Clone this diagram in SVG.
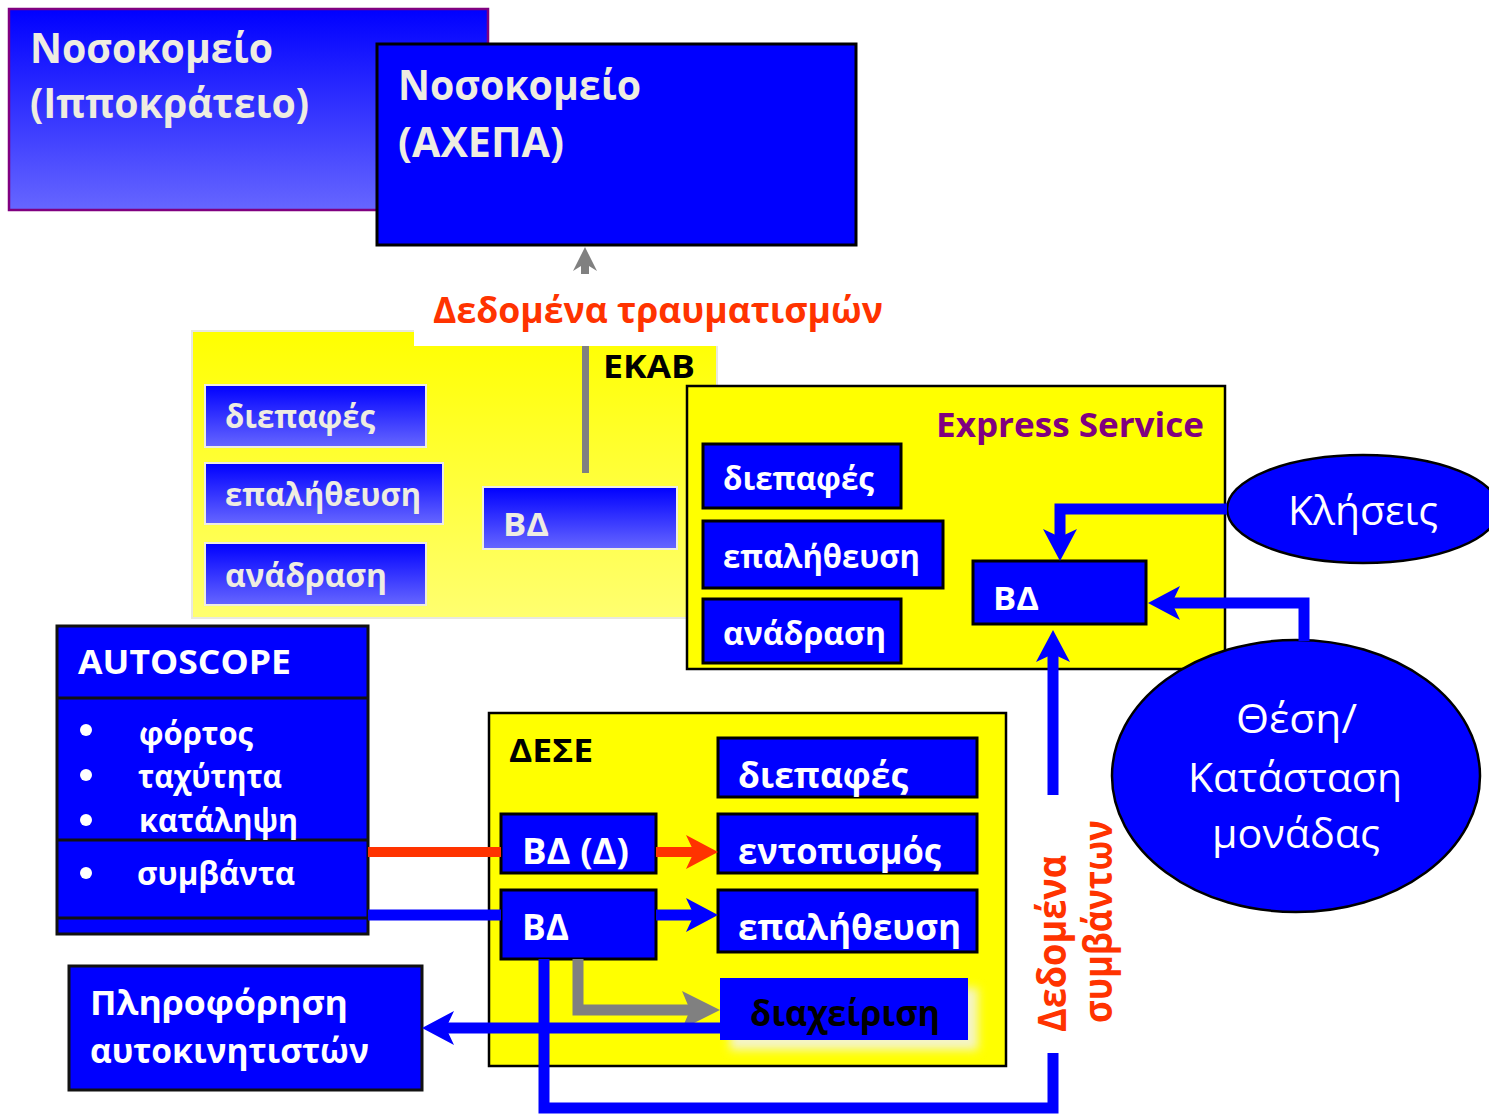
<svg xmlns="http://www.w3.org/2000/svg" width="1489" height="1115" viewBox="0 0 1489 1115">
<style>
text { font-family: "Open Sans", "Noto Sans", "DejaVu Sans", sans-serif; font-weight: bold; }
.reg { font-weight: normal; }
.cw { fill: #eeece1; }
.w { fill: #ffffff; }
.k { fill: #000000; }
.blue { fill: #0000ff; stroke: #000000; stroke-width: 3; }
.gbox { fill: url(#gBlue); stroke: #eeece1; stroke-width: 2; }
.ln { fill: none; stroke-linejoin: miter; }
.lb { stroke: #0000ff; stroke-width: 11; }
.lr { stroke: #ff3300; stroke-width: 10; }
.lg { stroke: #808080; stroke-width: 11; }
</style>
<defs>
<linearGradient id="gBlue" x1="0" y1="0" x2="0" y2="1"><stop offset="0" stop-color="#0000ff"/><stop offset="1" stop-color="#6666ff"/></linearGradient>
<linearGradient id="gYel" x1="0" y1="0" x2="0" y2="1"><stop offset="0" stop-color="#ffff00"/><stop offset="1" stop-color="#ffff70"/></linearGradient>
<marker id="mB" viewBox="0 0 32 34" markerWidth="32" markerHeight="34" refX="12" refY="17" orient="auto" markerUnits="userSpaceOnUse"><path d="M0,0 L32,17 L0,34 L8,17 Z" fill="#0000ff"/></marker>
<marker id="mR" viewBox="0 0 32 34" markerWidth="32" markerHeight="34" refX="12" refY="17" orient="auto" markerUnits="userSpaceOnUse"><path d="M0,0 L32,17 L0,34 L8,17 Z" fill="#ff3300"/></marker>
<marker id="mG" viewBox="0 0 38 38" markerWidth="38" markerHeight="38" refX="18" refY="19" orient="auto" markerUnits="userSpaceOnUse"><path d="M0,0 L38,19 L0,38 L8,19 Z" fill="#808080"/></marker>
<filter id="glow" x="-20%" y="-30%" width="140%" height="160%"><feGaussianBlur stdDeviation="5"/></filter>
</defs>

<g id="hosp-ippokrateio">
<rect x="9" y="9" width="479" height="201" fill="url(#gBlue)" stroke="#800080" stroke-width="2.5"/>
<text class="cw" x="30" y="63" font-size="41" textLength="243" lengthAdjust="spacingAndGlyphs">Νοσοκομείο</text>
<text class="cw" x="30" y="118" font-size="41" textLength="279" lengthAdjust="spacingAndGlyphs">(Ιπποκράτειο)</text>
</g>

<g id="hosp-axepa">
<rect x="377" y="44" width="479" height="201" fill="#0000ff" stroke="#000" stroke-width="3"/>
<text class="cw" x="398" y="100" font-size="41" textLength="243" lengthAdjust="spacingAndGlyphs">Νοσοκομείο</text>
<text class="cw" x="398" y="157" font-size="41" textLength="166" lengthAdjust="spacingAndGlyphs">(ΑΧΕΠΑ)</text>
</g>

<g id="ekab">
<rect x="192" y="331" width="525" height="287" fill="url(#gYel)" stroke="#e8e8e0" stroke-width="2"/>
<rect x="414" y="298" width="306" height="48" fill="#ffffff"/>
<text class="k" x="603" y="378" font-size="33" textLength="92" lengthAdjust="spacingAndGlyphs">ΕΚΑΒ</text>
</g>
<g id="ekab-diepafes"><rect class="gbox" x="205" y="385" width="221" height="62"/><text class="cw" x="225" y="428" font-size="32" textLength="150" lengthAdjust="spacingAndGlyphs">διεπαφές</text></g>
<g id="ekab-epalitheusi"><rect class="gbox" x="205" y="463" width="238" height="61"/><text class="cw" x="225" y="506" font-size="32" textLength="196" lengthAdjust="spacingAndGlyphs">επαλήθευση</text></g>
<g id="ekab-anadrasi"><rect class="gbox" x="205" y="543" width="221" height="62"/><text class="cw" x="225" y="587" font-size="32" textLength="162" lengthAdjust="spacingAndGlyphs">ανάδραση</text></g>
<g id="ekab-vd"><rect class="gbox" x="483" y="487" width="194" height="62"/><text class="cw" x="503" y="536" font-size="33" textLength="46" lengthAdjust="spacingAndGlyphs">ΒΔ</text></g>

<g id="express">
<rect x="687" y="386" width="538" height="283" fill="#ffff00" stroke="#000" stroke-width="2.5"/>
<text x="936" y="437" font-size="34" fill="#800080" textLength="268" lengthAdjust="spacingAndGlyphs">Express Service</text>
</g>
<g id="ex-diepafes"><rect class="blue" x="703" y="444" width="198" height="64"/><text class="w" x="723" y="490" font-size="32" textLength="151" lengthAdjust="spacingAndGlyphs">διεπαφές</text></g>
<g id="ex-epalitheusi"><rect class="blue" x="703" y="521" width="240" height="67"/><text class="w" x="723" y="568" font-size="32" textLength="197" lengthAdjust="spacingAndGlyphs">επαλήθευση</text></g>
<g id="ex-anadrasi"><rect class="blue" x="703" y="599" width="198" height="64"/><text class="w" x="723" y="645" font-size="32" textLength="163" lengthAdjust="spacingAndGlyphs">ανάδραση</text></g>
<g id="ex-vd"><rect class="blue" x="973" y="561" width="173" height="63"/><text class="w" x="993" y="610" font-size="33" textLength="46" lengthAdjust="spacingAndGlyphs">ΒΔ</text></g>

<g id="kliseis">
<ellipse cx="1363" cy="509" rx="136" ry="54" fill="#0000ff" stroke="#000" stroke-width="2.5"/>
<text class="w reg" x="1288" y="525" font-size="40" textLength="150" lengthAdjust="spacingAndGlyphs">Κλήσεις</text>
</g>

<g id="thesi">
<ellipse cx="1296" cy="776" rx="184" ry="136" fill="#0000ff" stroke="#000" stroke-width="2.5"/>
<text class="w reg" x="1236" y="733" font-size="40" textLength="121" lengthAdjust="spacingAndGlyphs">Θέση/</text>
<text class="w reg" x="1188" y="792" font-size="40" textLength="214" lengthAdjust="spacingAndGlyphs">Κατάσταση</text>
<text class="w reg" x="1212" y="848" font-size="40" textLength="168" lengthAdjust="spacingAndGlyphs">μονάδας</text>
</g>

<g id="autoscope">
<rect x="57" y="626" width="311" height="308" fill="#0000ff" stroke="#111" stroke-width="3"/>
<line x1="57" y1="698" x2="368" y2="698" stroke="#111" stroke-width="3"/>
<line x1="57" y1="840" x2="368" y2="840" stroke="#111" stroke-width="3"/>
<line x1="57" y1="918" x2="368" y2="918" stroke="#111" stroke-width="3"/>
<text class="w" x="78" y="674" font-size="34" textLength="213" lengthAdjust="spacingAndGlyphs">AUTOSCOPE</text>
<circle cx="86" cy="730" r="6" fill="#fff"/>
<circle cx="86" cy="775" r="6" fill="#fff"/>
<circle cx="86" cy="820" r="6" fill="#fff"/>
<circle cx="86" cy="873" r="6" fill="#fff"/>
<text class="w" x="139" y="745" font-size="32" textLength="114" lengthAdjust="spacingAndGlyphs">φόρτος</text>
<text class="w" x="138" y="788" font-size="32" textLength="144" lengthAdjust="spacingAndGlyphs">ταχύτητα</text>
<text class="w" x="139" y="832" font-size="32" textLength="159" lengthAdjust="spacingAndGlyphs">κατάληψη</text>
<text class="w" x="137" y="885" font-size="32" textLength="158" lengthAdjust="spacingAndGlyphs">συμβάντα</text>
</g>

<g id="dese">
<rect x="489" y="713" width="517" height="353" fill="#ffff00" stroke="#000" stroke-width="2.5"/>
<text class="k" x="509" y="762" font-size="32" textLength="84" lengthAdjust="spacingAndGlyphs">ΔΕΣΕ</text>
</g>
<g id="dese-diepafes"><rect class="blue" x="718" y="738" width="259" height="59"/><text class="w" x="738" y="788" font-size="36" textLength="170" lengthAdjust="spacingAndGlyphs">διεπαφές</text></g>
<g id="dese-vd-d"><rect class="blue" x="501" y="814" width="155" height="59"/><text class="w" x="522" y="864" font-size="36" textLength="107" lengthAdjust="spacingAndGlyphs">ΒΔ (Δ)</text></g>
<g id="dese-entopismos"><rect class="blue" x="718" y="814" width="259" height="59"/><text class="w" x="738" y="864" font-size="36" textLength="203" lengthAdjust="spacingAndGlyphs">εντοπισμός</text></g>
<g id="dese-vd"><rect class="blue" x="501" y="890" width="155" height="69"/><text class="w" x="522" y="940" font-size="36" textLength="47" lengthAdjust="spacingAndGlyphs">ΒΔ</text></g>
<g id="dese-epalitheusi"><rect class="blue" x="718" y="890" width="259" height="62"/><text class="w" x="738" y="940" font-size="36" textLength="223" lengthAdjust="spacingAndGlyphs">επαλήθευση</text></g>
<g id="dese-diaxeirisi">
<rect x="730" y="988" width="248" height="62" fill="#f4f4c8" filter="url(#glow)"/>
<rect x="720" y="978" width="248" height="62" fill="#0000ff"/>
<text class="k" x="750" y="1026" font-size="36" textLength="190" lengthAdjust="spacingAndGlyphs">διαχείριση</text>
</g>

<g id="pliroforisi">
<rect x="69" y="966" width="353" height="124" fill="#0000ff" stroke="#111" stroke-width="3"/>
<text class="w" x="90" y="1015" font-size="34" textLength="258" lengthAdjust="spacingAndGlyphs">Πληροφόρηση</text>
<text class="w" x="90" y="1063" font-size="34" textLength="279" lengthAdjust="spacingAndGlyphs">αυτοκινητιστών</text>
</g>

<g id="labels">
<text x="433" y="323" font-size="35" fill="#ff3300" textLength="450" lengthAdjust="spacingAndGlyphs">Δεδομένα τραυματισμών</text>
<text transform="translate(1066,1032) rotate(-90)" font-size="40" fill="#ff3300" textLength="177" lengthAdjust="spacingAndGlyphs">Δεδομένα</text>
<text transform="translate(1112,1023) rotate(-90)" font-size="40" fill="#ff3300" textLength="203" lengthAdjust="spacingAndGlyphs">συμβάντων</text>
</g>

<g id="connectors">
<path d="M585,274 V266 M581,274 V266 L573,271 L585,247 L597,271 L589,266 V274 Z" fill="#808080"/>
<line x1="585.5" y1="346" x2="585.5" y2="473" stroke="#808080" stroke-width="7"/>
<path class="ln lb" d="M1227,509 H1060 V541" marker-end="url(#mB)"/>
<path class="ln lb" d="M1304,641 V603 H1168" marker-end="url(#mB)" stroke-linejoin="round"/>
<path class="ln lb" d="M544,959 V1108 H1053 V1053"/>
<path class="ln lb" d="M1053,795 V650" marker-end="url(#mB)"/>
<path class="ln lr" d="M368,852 H501"/>
<path class="ln lr" d="M656,852 H698" marker-end="url(#mR)"/>
<path class="ln lb" d="M368,915 H501" stroke-width="9"/>
<path class="ln lb" d="M656,915 H698" marker-end="url(#mB)" stroke-width="8"/>
<path class="ln lg" d="M578,959 V1010 H700" marker-end="url(#mG)"/>
<path class="ln lb" d="M720,1028 H442" marker-end="url(#mB)"/>
</g>
</svg>
